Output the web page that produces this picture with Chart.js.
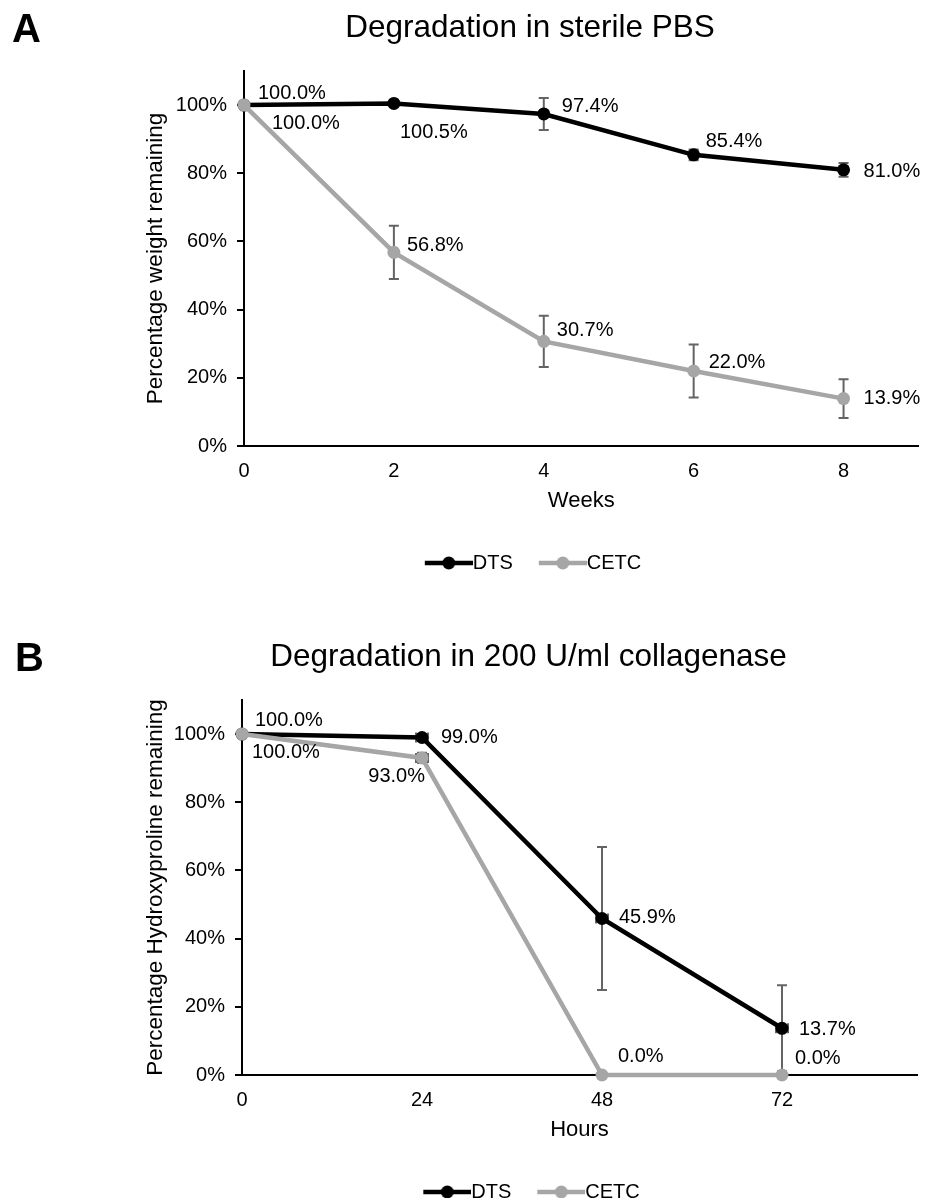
<!DOCTYPE html>
<html>
<head>
<meta charset="utf-8">
<script src="https://cdn.jsdelivr.net/npm/chart.js@4.4.1/dist/chart.umd.min.js"></script>
<style>
  html, body { margin: 0; padding: 0; background: #fff; width: 925px; height: 1198px; overflow: hidden; }
  .panel { position: absolute; left: 0; width: 925px; height: 629px; }
  #pA { top: 0; }
  #pB { top: 629px; }
  .letter { position: absolute; top: 8px; font: bold 40px "Liberation Sans", Arial, sans-serif; line-height: 40px; color: #000; }
</style>
</head>
<body>
<div class="panel" id="pA">
  <canvas id="cA" width="925" height="629"></canvas>
  <div class="letter" style="left:12px">A</div>
</div>
<div class="panel" id="pB">
  <canvas id="cB" width="925" height="629"></canvas>
  <div class="letter" style="left:15px">B</div>
</div>
<script>
// ---------- data ----------
const seriesNames = ['DTS', 'CETC'];
const percentTicks = [0, 20, 40, 60, 80, 100];

// Panel A: degradation in sterile PBS
const weeks = [0, 2, 4, 6, 8];
const weekTicks = [0, 2, 4, 6, 8];
const dtsWeight = [100.0, 100.5, 97.4, 85.4, 81.0];
const dtsWeightErr = [0, 1.0, 4.7, 1.6, 2.0];
const cetcWeight = [100.0, 56.8, 30.7, 22.0, 13.9];
const cetcWeightErr = [0, 7.8, 7.5, 7.8, 5.7];

// Panel B: degradation in 200 U/ml collagenase
const hours = [0, 24, 48, 72];
const hourTicks = [0, 24, 48, 72];
const dtsHyp = [100.0, 99.0, 45.9, 13.7];
const dtsHypErr = [0, 1.0, 21.0, 12.6];
const dtsHypXErr = [0, 0.8, 0.8, 0.8];
const cetcHyp = [100.0, 93.0, 0.0, 0.0];
const cetcHypErr = [0, 1.5, 0, 0];
const cetcHypXErr = [0, 0.8, 0, 0];

// ---------- style ----------
const FONT = '"Liberation Sans", Arial, Helvetica, sans-serif';
const BLACK = '#000000';
const GREY = '#a6a6a6';
const ERR = '#646464';
// label offsets (px) relative to each point: [dx, dy, align]
const labelOffsetsA = [
  [[14, -12], [6, 29], [18, -7], [12, -13], [20, 2]],
  [[28, 18], [13, -7], [13, -11], [15, -9], [20, 0]]
];
const labelOffsetsB = [
  [[13, -14], [19, 0], [17, -1], [17, 1]],
  [[10, 18], [3, 19, 'right'], [16, -19], [13, -17]]
];

function legendIcon(color) {
  const c = document.createElement('canvas');
  c.width = 64; c.height = 16;
  const g = c.getContext('2d');
  g.strokeStyle = color; g.lineWidth = 4.5;
  g.beginPath(); g.moveTo(16, 8); g.lineTo(64, 8); g.stroke();
  g.fillStyle = color;
  g.beginPath(); g.arc(40, 8, 6.5, 0, Math.PI * 2); g.fill();
  return c;
}

function errorBarPlugin() {
  return {
    id: 'errorBars',
    beforeDatasetsDraw(chart) {
      const ctx = chart.ctx, xs = chart.scales.x, ys = chart.scales.y;
      ctx.save();
      ctx.strokeStyle = ERR; ctx.lineWidth = 2;
      const cap = 5;
      chart.data.datasets.forEach(ds => {
        ds.data.forEach((p, i) => {
          const px = xs.getPixelForValue(p.x), py = ys.getPixelForValue(p.y);
          const ey = ds.yErr ? ds.yErr[i] : 0;
          if (ey > 0) {
            const t = ys.getPixelForValue(p.y + ey), b = ys.getPixelForValue(Math.max(0, p.y - ey));
            ctx.beginPath();
            ctx.moveTo(px, t); ctx.lineTo(px, b);
            ctx.moveTo(px - cap, t); ctx.lineTo(px + cap, t);
            ctx.moveTo(px - cap, b); ctx.lineTo(px + cap, b);
            ctx.stroke();
          }
          const ex = ds.xErr ? ds.xErr[i] : 0;
          if (ex > 0) {
            const l = xs.getPixelForValue(p.x - ex), r = xs.getPixelForValue(p.x + ex);
            ctx.beginPath();
            ctx.moveTo(l, py); ctx.lineTo(r, py);
            ctx.moveTo(l, py - cap); ctx.lineTo(l, py + cap);
            ctx.moveTo(r, py - cap); ctx.lineTo(r, py + cap);
            ctx.stroke();
          }
        });
      });
      ctx.restore();
    }
  };
}

function labelPlugin(offsets) {
  return {
    id: 'pointLabels',
    afterDatasetsDraw(chart) {
      const ctx = chart.ctx;
      ctx.save();
      ctx.font = '20px ' + FONT;
      ctx.fillStyle = '#000';
      ctx.textBaseline = 'middle';
      chart.data.datasets.forEach((ds, di) => {
        const meta = chart.getDatasetMeta(di);
        meta.data.forEach((el, i) => {
          const o = offsets[di][i];
          ctx.textAlign = o[2] || 'left';
          ctx.fillText(ds.data[i].y.toFixed(1) + '%', el.x + o[0], el.y + o[1]);
        });
      });
      ctx.restore();
    }
  };
}

function makeChart(id, cfg) {
  const pts = (xs, ys) => xs.map((x, i) => ({ x: x, y: ys[i] }));
  const lineDs = (label, color, data, yErr, xErr, order) => ({
    label, data, yErr, xErr, order,
    borderColor: color, backgroundColor: color,
    pointBackgroundColor: color, pointBorderColor: color,
    borderWidth: 4.5, pointRadius: 6.5, pointHoverRadius: 6.5, pointBorderWidth: 0,
    tension: 0, clip: false, fill: false
  });
  return new Chart(document.getElementById(id), {
    type: 'line',
    data: {
      datasets: [
        lineDs(seriesNames[0], BLACK, pts(cfg.x, cfg.dts), cfg.dtsErr, cfg.dtsXErr, 1),
        lineDs(seriesNames[1], GREY, pts(cfg.x, cfg.cetc), cfg.cetcErr, cfg.cetcXErr, 0)
      ]
    },
    plugins: [errorBarPlugin(), labelPlugin(cfg.offsets)],
    options: {
      responsive: false,
      animation: false,
      events: [],
      layout: { padding: { left: 140, right: cfg.padRight, top: 0, bottom: 46 } },
      plugins: {
        tooltip: { enabled: false },
        title: {
          display: true, text: cfg.title, color: '#000',
          font: { family: FONT, size: 31.5, weight: 'normal' },
          padding: { top: 9, bottom: 24.2 }
        },
        legend: {
          position: 'bottom',
          labels: {
            usePointStyle: true, pointStyleWidth: 44,
            font: { family: FONT, size: 20 }, color: '#000', padding: 20,
            generateLabels: chart => chart.data.datasets.map((ds, i) => ({
              text: ds.label, datasetIndex: i, pointStyle: legendIcon(ds.borderColor),
              fillStyle: ds.borderColor, strokeStyle: ds.borderColor, lineWidth: 0,
              hidden: false, fontColor: '#000'
            }))
          }
        }
      },
      scales: {
        x: {
          type: 'linear', min: 0, max: cfg.xMax,
          afterBuildTicks: a => { a.ticks = cfg.xTicks.map(v => ({ value: v })); },
          afterFit: a => { a.height = 87; },
          ticks: { font: { family: FONT, size: 20 }, color: '#000', padding: 13, callback: v => String(v) },
          grid: { display: false, drawTicks: false },
          border: { display: true, color: '#000', width: 2 },
          title: { display: true, text: cfg.xTitle, color: '#000', font: { family: FONT, size: 22 }, padding: { top: 0, bottom: 19 } }
        },
        y: {
          type: 'linear', min: 0, max: 110,
          afterBuildTicks: a => { a.ticks = percentTicks.map(v => ({ value: v })); },
          afterFit: a => { a.width = cfg.yWidth; },
          ticks: { font: { family: FONT, size: 20 }, color: '#000', padding: 10, callback: v => v + '%' },
          grid: { display: true, drawOnChartArea: false, drawTicks: true, tickLength: 7, color: '#000', lineWidth: 2 },
          border: { display: true, color: '#000', width: 2 },
          title: { display: true, text: cfg.yTitle, color: '#000', font: { family: FONT, size: 22.5 }, padding: { top: 2, bottom: 0 } }
        }
      }
    }
  });
}

makeChart('cA', {
  title: 'Degradation in sterile PBS', xTitle: 'Weeks', yTitle: 'Percentage weight remaining',
  x: weeks, xTicks: weekTicks, xMax: 9, padRight: 5, yWidth: 104,
  dts: dtsWeight, dtsErr: dtsWeightErr, dtsXErr: null,
  cetc: cetcWeight, cetcErr: cetcWeightErr, cetcXErr: null,
  offsets: labelOffsetsA
});
makeChart('cB', {
  title: 'Degradation in 200 U/ml collagenase', xTitle: 'Hours', yTitle: 'Percentage Hydroxyproline remaining',
  x: hours, xTicks: hourTicks, xMax: 90, padRight: 8, yWidth: 102,
  dts: dtsHyp, dtsErr: dtsHypErr, dtsXErr: dtsHypXErr,
  cetc: cetcHyp, cetcErr: cetcHypErr, cetcXErr: cetcHypXErr,
  offsets: labelOffsetsB
});
</script>
</body>
</html>
